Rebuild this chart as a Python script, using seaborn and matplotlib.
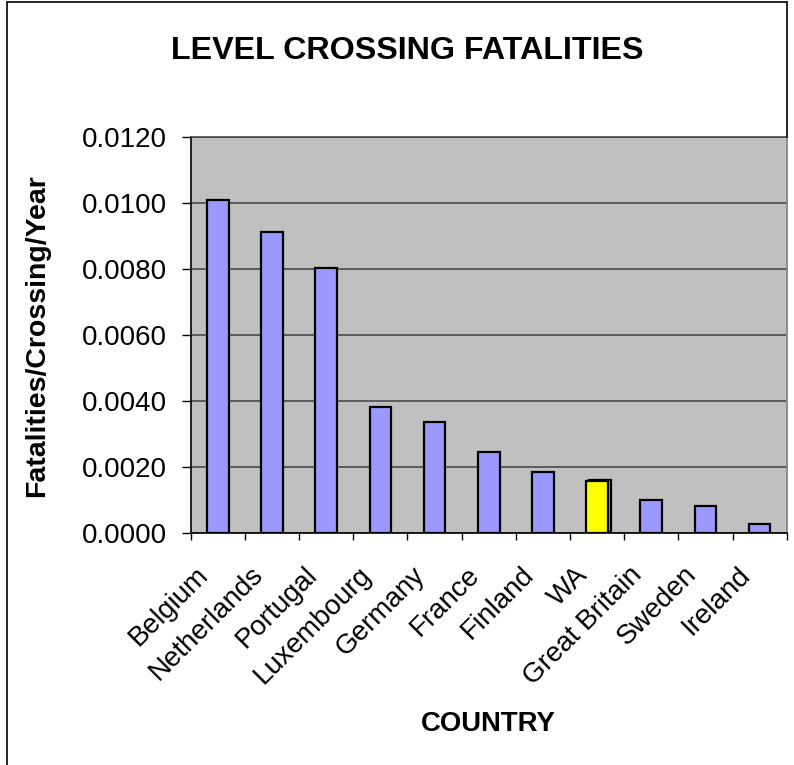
import matplotlib
matplotlib.use("Agg")
import matplotlib.pyplot as plt
import matplotlib.ticker as mticker
import matplotlib.transforms as mtransforms
from matplotlib import patheffects
from matplotlib.lines import Line2D
import numpy as np
import pandas as pd
import seaborn as sns

# Level crossing fatality rates by country
countries = ["Belgium", "Netherlands", "Portugal", "Luxembourg", "Germany",
             "France", "Finland", "WA", "Great Britain", "Sweden", "Ireland"]
rates = [0.0101, 0.00914, 0.00805, 0.00382, 0.00338,
         0.00247, 0.00187, 0.00158, 0.00102, 0.00084, 0.00029]
highlight = "WA"
y_ticks = [0.0, 0.002, 0.004, 0.006, 0.008, 0.010, 0.012]

sns.set_theme(style="white")
plt.rcParams["font.family"] = ["Liberation Sans", "DejaVu Sans"]
plt.rcParams.update({"text.color": "black", "axes.labelcolor": "black",
                     "xtick.color": "black", "ytick.color": "black"})

df = pd.DataFrame({"Country": countries, "Rate": rates})
bar_color = "#9999FF"
palette = {c: ("#FFFF00" if c == highlight else bar_color) for c in countries}

W, H = 794, 765
fig = plt.figure(figsize=(W / 100, H / 100), dpi=100)
fig.patch.set_facecolor("white")

# plot area in pixel terms
x0, x1, ytop, ybot = 190.7, 786.7, 137.3, 533.3
ax = fig.add_axes([x0 / W, 1 - ybot / H, (x1 - x0) / W, (ybot - ytop) / H])
ax.set_facecolor("#C0C0C0")
ax.set_axisbelow(True)

sns.barplot(data=df, x="Country", y="Rate", hue="Country", palette=palette,
            width=0.4, edgecolor="black", linewidth=1.6, legend=False,
            saturation=1, ax=ax)

# highlighted bar gets a blue offset backing, as in the spreadsheet chart
for p in ax.patches:
    fc = p.get_facecolor()
    if fc[0] > 0.9 and fc[1] > 0.9 and fc[2] < 0.1:
        p.set_path_effects([
            patheffects.PathPatchEffect(offset=(2, 1), facecolor=bar_color,
                                        edgecolor="black", linewidth=1.6),
            patheffects.Normal(),
        ])

ax.set_ylim(0, 0.012)
ax.set_xlim(-0.5, len(countries) - 0.5)
ax.set_yticks(y_ticks)
ax.yaxis.set_major_formatter(mticker.FuncFormatter(lambda v, _: f"{v:.4f}"))
ax.tick_params(axis="y", which="major", direction="out", length=6.5, width=1,
               color="black", labelsize=20, pad=10.5, left=True,
               labelcolor="black")

# category labels at centers, tick marks at category boundaries
ax.set_xticks(np.arange(len(countries)))
ax.set_xticklabels(countries, rotation=45, ha="right", va="center",
                   rotation_mode="anchor")
ax.tick_params(axis="x", which="major", length=0, labelsize=20, pad=27,
               labelcolor="black")
shift = mtransforms.ScaledTranslation(-13 / 100, 0, fig.dpi_scale_trans)
for lbl in ax.get_xticklabels():
    lbl.set_transform(lbl.get_transform() + shift)
ax.set_xticks(np.arange(len(countries) + 1) - 0.5, minor=True)
ax.tick_params(axis="x", which="minor", direction="out", length=5, width=1,
               color="black", bottom=True)

ax.yaxis.grid(True, color="#4a4a4a", linewidth=1.2)
ax.xaxis.grid(False)

for side, col in [("left", "black"), ("bottom", "black"),
                  ("right", "#808080"), ("top", "#4a4a4a")]:
    ax.spines[side].set_visible(True)
    ax.spines[side].set_color(col)
    ax.spines[side].set_linewidth(1.2)

ax.set_ylabel("Fatalities/Crossing/Year", fontsize=20.5, fontweight="bold")
ax.yaxis.set_label_coords((50 - x0) / (x1 - x0), 0.5)
ax.set_xlabel("COUNTRY", fontsize=19.8, fontweight="bold", va="center")
ax.xaxis.set_label_coords(0.5, (ybot - 724) / (ybot - ytop))

fig.text(407 / W, 1 - 51 / H, "LEVEL CROSSING FATALITIES", ha="center",
         va="center", fontsize=23.2, fontweight="bold")

# chart frame
fig.add_artist(Line2D([7 / W, 7 / W], [0, 1 - 1.5 / H], transform=fig.transFigure,
                      color="black", linewidth=1.2))
fig.add_artist(Line2D([7 / W, x1 / W], [1 - 1.5 / H, 1 - 1.5 / H],
                      transform=fig.transFigure, color="black", linewidth=1.2))
fig.add_artist(Line2D([x1 / W, x1 / W], [1 - ytop / H, 1 - 1.5 / H],
                      transform=fig.transFigure, color="black", linewidth=1.2))

fig.savefig("out.png", dpi=100)
